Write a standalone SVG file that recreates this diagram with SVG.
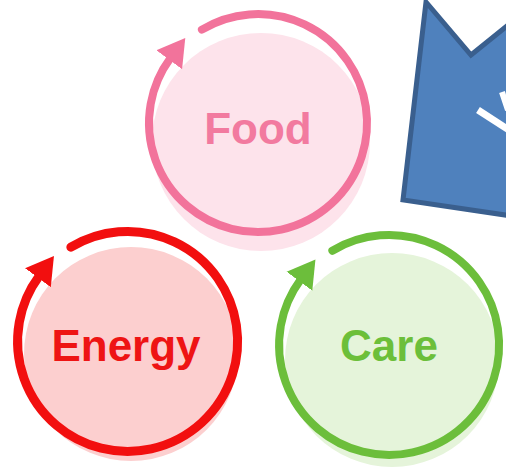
<svg xmlns="http://www.w3.org/2000/svg" width="506" height="467" viewBox="0 0 506 467">
  <style>
    .ring { fill: none; stroke-linecap: round; }
    .label { font-family: "Liberation Sans", Arial, sans-serif; font-weight: bold; font-size: 44px; text-anchor: middle; }
  </style>
  <defs>
    <marker id="ah-pink" markerUnits="userSpaceOnUse" markerWidth="30" markerHeight="34" viewBox="0 -17 30 34" refX="2" refY="0" orient="auto">
      <path d="M0,-16 L27,0 L0,16 Z" fill="#F2739B"/>
    </marker>
    <marker id="ah-red" markerUnits="userSpaceOnUse" markerWidth="30" markerHeight="34" viewBox="0 -17 30 34" refX="2" refY="0" orient="auto">
      <path d="M0,-16 L27,0 L0,16 Z" fill="#F20F0F"/>
    </marker>
    <marker id="ah-green" markerUnits="userSpaceOnUse" markerWidth="30" markerHeight="34" viewBox="0 -17 30 34" refX="2" refY="0" orient="auto">
      <path d="M0,-16 L27,0 L0,16 Z" fill="#6CBE3B"/>
    </marker>
  </defs>
  <rect width="506" height="467" fill="#FFFFFF"/>

  <g id="callout">
    <path d="M426,2 L471,55 L512,22 L512,216 L403,200 Z" fill="#4F81BD" stroke="#3A5F8E" stroke-width="5" stroke-linejoin="miter"/>
    <line x1="478" y1="110" x2="512" y2="132" stroke="#FFFFFF" stroke-width="7"/>
    <line x1="502" y1="92" x2="508" y2="110" stroke="#FFFFFF" stroke-width="6"/>
  </g>

  <g id="node-food">
    <circle cx="261" cy="142" r="109" fill="#FDE3EB"/>
    <path class="ring" d="M201.9,29.6 A109,109 0 1 1 170.4,58.2" stroke="#F2739B" stroke-width="8" marker-end="url(#ah-pink)"/>
    <text class="label" x="258" y="144" fill="#F27A9F">Food</text>
  </g>

  <g id="node-energy">
    <circle cx="131" cy="354" r="107" fill="#FCCFCF"/>
    <path class="ring" d="M70.85,247.2 A110,110 0 1 1 39.1,276.1" stroke="#F20F0F" stroke-width="9" marker-end="url(#ah-red)"/>
    <text class="label" x="126" y="361" fill="#EE1414">Energy</text>
  </g>

  <g id="node-care">
    <circle cx="392" cy="360" r="107" fill="#E5F4DA"/>
    <path class="ring" d="M332.35,250.7 A110,110 0 1 1 300.6,279.6" stroke="#6CBE3B" stroke-width="8" marker-end="url(#ah-green)"/>
    <text class="label" x="389" y="361" fill="#6CBF3A">Care</text>
  </g>

  <g id="connectors"></g>
</svg>
